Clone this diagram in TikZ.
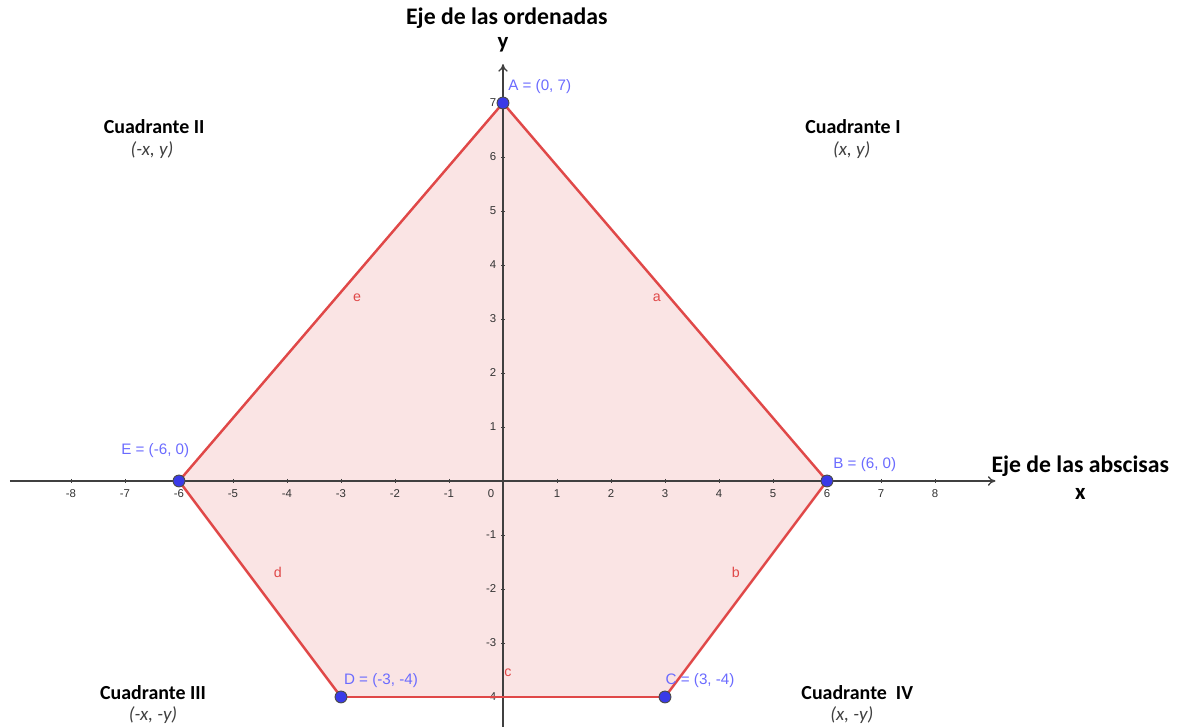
\documentclass[tikz,border=0pt]{standalone}
\usepackage{fontspec}
\setmainfont{Carlito}
\newfontfamily\gsans{Liberation Sans}
\usetikzlibrary{arrows.meta}
\definecolor{polyred}{HTML}{E04848}
\definecolor{polyfill}{HTML}{FAE4E4}
\definecolor{ptblue}{HTML}{3A3AE8}
\definecolor{lblblue}{HTML}{6B6BFF}
\definecolor{axisgray}{HTML}{404040}
\tikzset{
  axisline/.style={draw=axisgray, line width=0.7pt, -{To[length=4pt,width=5pt]}},
  edge/.style={draw=polyred, line width=1.3pt},
  pt/.style={circle, fill=ptblue, draw=black!70, line width=0.5pt, minimum size=0.22cm, inner sep=0pt},
  ptlabel/.style={text=lblblue, font=\gsans\fontsize{8}{9}\selectfont, inner sep=0pt},
  ticklbl/.style={text=black!80, font=\gsans\fontsize{6}{7}\selectfont, inner sep=0pt},
  sidelbl/.style={text=polyred, font=\gsans\fontsize{7.5}{8}\selectfont, inner sep=0pt},
  quadtitle/.style={font=\bfseries\fontsize{10.5}{12}\selectfont, inner sep=0pt},
  quadcoord/.style={font=\itshape\fontsize{10}{12}\selectfont, text=black!75, inner sep=0pt},
  axistitle/.style={font=\bfseries\fontsize{12.5}{14}\selectfont, inner sep=0pt},
  axisvar/.style={font=\bfseries\fontsize{12}{14}\selectfont, inner sep=0pt}
}
\begin{document}
\begin{tikzpicture}[x=1cm,y=1cm]
\useasboundingbox (-9.315,-4.556) rectangle (12.5,8.907);
% vertices
\coordinate (A) at (0,7);
\coordinate (B) at (6,0);
\coordinate (C) at (3,-4);
\coordinate (D) at (-3,-4);
\coordinate (E) at (-6,0);
% fill
\fill[polyfill] (A) -- (B) -- (C) -- (D) -- (E) -- cycle;
% axes
\coordinate (xl) at (-9.13,0);
\coordinate (xr) at (9.12,0);
\coordinate (yb) at (0,-4.7);
\coordinate (yt) at (0,7.72);
\draw[axisline] (xl) -- (xr);
\draw[axisline] (yb) -- (yt);
% ticks
\foreach \i in {-8,...,-1,1,2,...,8}{
  \draw[axisgray, line width=0.5pt] (\i,0.04) -- (\i,-0.04);
  \node[ticklbl] (xt\i) at (\i,-0.23) {\i};
}
\node[ticklbl] (o) at (-0.22,-0.23) {0};
\foreach \j in {-4,...,-1,1,2,...,7}{
  \draw[axisgray, line width=0.5pt] (0.04,\j) -- (-0.04,\j);
  \node[ticklbl, anchor=east] (yt\j) at (-0.12,\j) {\j};
}
% edges
\draw[edge] (A) -- (B);
\draw[edge] (B) -- (C);
\draw[edge] (C) -- (D);
\draw[edge] (D) -- (E);
\draw[edge] (E) -- (A);
% side labels
\node[sidelbl] (la) at (2.85,3.39) {a};
\node[sidelbl] (lb) at (4.31,-1.69) {b};
\node[sidelbl] (lc) at (0.09,-3.56) {c};
\node[sidelbl] (ld) at (-4.17,-1.69) {d};
\node[sidelbl] (le) at (-2.70,3.39) {e};
% points
\node[pt] (pA) at (A) {};
\node[pt] (pB) at (B) {};
\node[pt] (pC) at (C) {};
\node[pt] (pD) at (D) {};
\node[pt] (pE) at (E) {};
% point labels
\node[ptlabel] (tA) at (0.68,7.30) {A = (0, 7)};
\node[ptlabel] (tB) at (6.70,0.31) {B = (6, 0)};
\node[ptlabel] (tC) at (3.65,-3.69) {C = (3, -4)};
\node[ptlabel] (tD) at (-2.26,-3.69) {D = (-3, -4)};
\node[ptlabel] (tE) at (-6.44,0.56) {E = (-6, 0)};
% quadrants
\node[quadtitle] (q2) at (-6.46,6.56) {Cuadrante II};
\node[quadcoord] (q2c) at (-6.5,6.13) {(-x, y)};
\node[quadtitle] (q1) at (6.48,6.56) {Cuadrante I};
\node[quadcoord] (q1c) at (6.46,6.13) {(x, y)};
\node[quadtitle] (q3) at (-6.48,-3.91) {Cuadrante III};
\node[quadcoord] (q3c) at (-6.48,-4.33) {(-x, -y)};
\node[quadtitle] (q4) at (6.56,-3.91) {Cuadrante\ \ IV};
\node[quadcoord] (q4c) at (6.46,-4.33) {(x, -y)};
% axis titles
\node[axistitle] (ord) at (0.07,8.57) {Eje de las ordenadas};
\node[axisvar] (yv) at (0,8.07) {y};
\node[axistitle] (abs) at (10.69,0.28) {Eje de las abscisas};
\node[axisvar] (xv) at (10.69,-0.24) {x};
\end{tikzpicture}
\end{document}
